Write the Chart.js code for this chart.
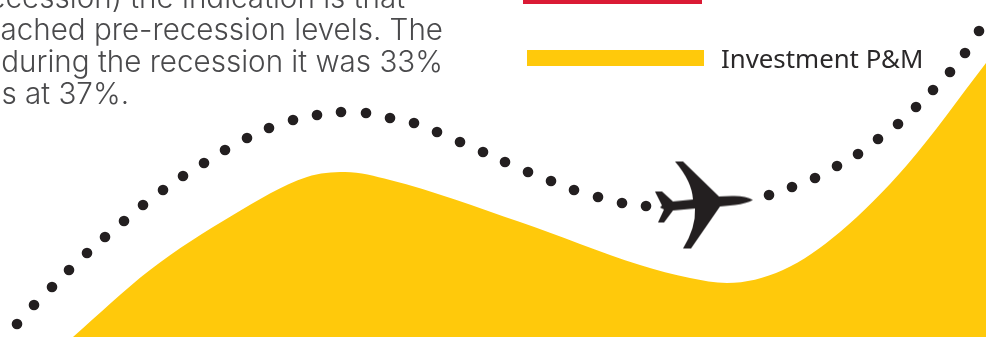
<!DOCTYPE html>
<html>
<head>
<meta charset="utf-8">
<title>Investment P&amp;M</title>
<script src="https://cdn.jsdelivr.net/npm/chart.js@4"></script>
<style>
	html, body { margin: 0; padding: 0; background: #fff; }
	.page { position: relative; width: 986px; height: 337px; overflow: hidden; }
	#chart { position: absolute; left: 0; top: 0; }
	.copy div {
		position: absolute;
		right: 543px;
		white-space: nowrap;
		font: 300 29.6px/32px Inter, sans-serif;
		color: #4a4a4c;
	}
	.swatch { position: absolute; }
	.label {
		position: absolute;
		left: 721px;
		top: 41px;
		font: 400 25.8px/34px "Noto Sans", sans-serif;
		color: #2a2829;
		white-space: nowrap;
	}
</style>
</head>
<body>
<div class="page">
	<canvas id="chart" width="986" height="337"></canvas>
	<div class="copy">
		<div style="top:-19px;right:581px">recession) the indication is that</div>
		<div style="top:13px">reached pre-recession levels. The</div>
		<div style="top:45px">during the recession it was 33%</div>
		<div style="top:77px;right:857px">levels at 37%.</div>
	</div>
	<div class="swatch" style="left:523px;top:0;width:179px;height:4px;background:#da1a35"></div>
	<div class="swatch" style="left:527px;top:50px;width:177px;height:16px;background:#ffc90b"></div>
	<div class="label">Investment P&amp;M</div>
</div>
<script>
// yellow area outline
const areaX = [73, 150, 233, 307, 345, 390, 520, 640, 690, 727, 783, 840, 907, 986];
const areaY = [0, 67, 122, 160, 165, 157, 115, 72, 59, 54, 67, 105, 172, 274];

// dotted flight path, with a gap where the plane sits
const dotX = [17, 34, 52, 69, 87, 105, 124, 143, 163, 183, 204, 225, 247, 269, 293, 317, 341, 366, 390, 414, 437, 460, 483, 505, 528, 551, 574, 598, 622, 646, 769, 792, 815, 837, 858, 878, 898, 916, 933, 950, 965, 979];
const dotY = [13, 32, 50, 67, 84, 100, 116, 132, 147, 161, 174, 187, 199, 209, 217, 222, 225, 224, 219, 214, 205, 195, 185, 175, 165, 156, 147, 140, 134, 131, 142, 150, 159, 171, 183, 198, 213, 230, 247, 265, 284, 306];

const planeX = [704];
const planeY = [131.5];

const inkColor = '#231f20';
const yellow = '#ffc90b';

// plane silhouette, flying right
function makePlane() {
	const icon = document.createElement('canvas');
	icon.width = 100;
	icon.height = 90;
	const c = icon.getContext('2d');
	c.translate(-654, -161);
	c.fillStyle = inkColor;
	c.beginPath();
	c.moveTo(753, 200.5);
	c.quadraticCurveTo(745, 196, 732, 196.5);
	c.lineTo(719, 197);
	c.lineTo(683, 162);
	c.lineTo(675, 162);
	c.quadraticCurveTo(692, 182, 693, 200);
	c.lineTo(673, 202);
	c.lineTo(662, 192);
	c.lineTo(655, 192);
	c.lineTo(662, 206);
	c.lineTo(660, 208);
	c.lineTo(664, 210);
	c.lineTo(658, 223);
	c.lineTo(664, 223);
	c.lineTo(673, 211);
	c.lineTo(695, 209);
	c.quadraticCurveTo(696, 228, 683, 249);
	c.lineTo(691, 249);
	c.lineTo(720, 207);
	c.lineTo(735, 205.5);
	c.quadraticCurveTo(746, 204, 753, 200.5);
	c.closePath();
	c.fill();
	return icon;
}

function toPoints(xs, ys) {
	return xs.map((x, i) => ({ x: x, y: ys[i] }));
}

new Chart(document.getElementById('chart'), {
	type: 'scatter',
	data: {
		datasets: [
			{
				type: 'line',
				data: toPoints(areaX, areaY),
				borderWidth: 0,
				borderColor: yellow,
				backgroundColor: yellow,
				fill: 'start',
				cubicInterpolationMode: 'monotone',
				pointRadius: 0,
				order: 3,
			},
			{
				data: toPoints(dotX, dotY),
				pointRadius: 5.3,
				pointBackgroundColor: inkColor,
				pointBorderWidth: 0,
				order: 2,
			},
			{
				data: toPoints(planeX, planeY),
				pointStyle: makePlane(),
				order: 1,
			},
		],
	},
	options: {
		responsive: false,
		animation: false,
		layout: { padding: 0, autoPadding: false },
		scales: {
			x: { type: 'linear', display: false, min: 0, max: 986 },
			y: { type: 'linear', display: false, min: 0, max: 337 },
		},
		plugins: {
			legend: { display: false },
			tooltip: { enabled: false },
		},
	},
});
</script>
</body>
</html>
